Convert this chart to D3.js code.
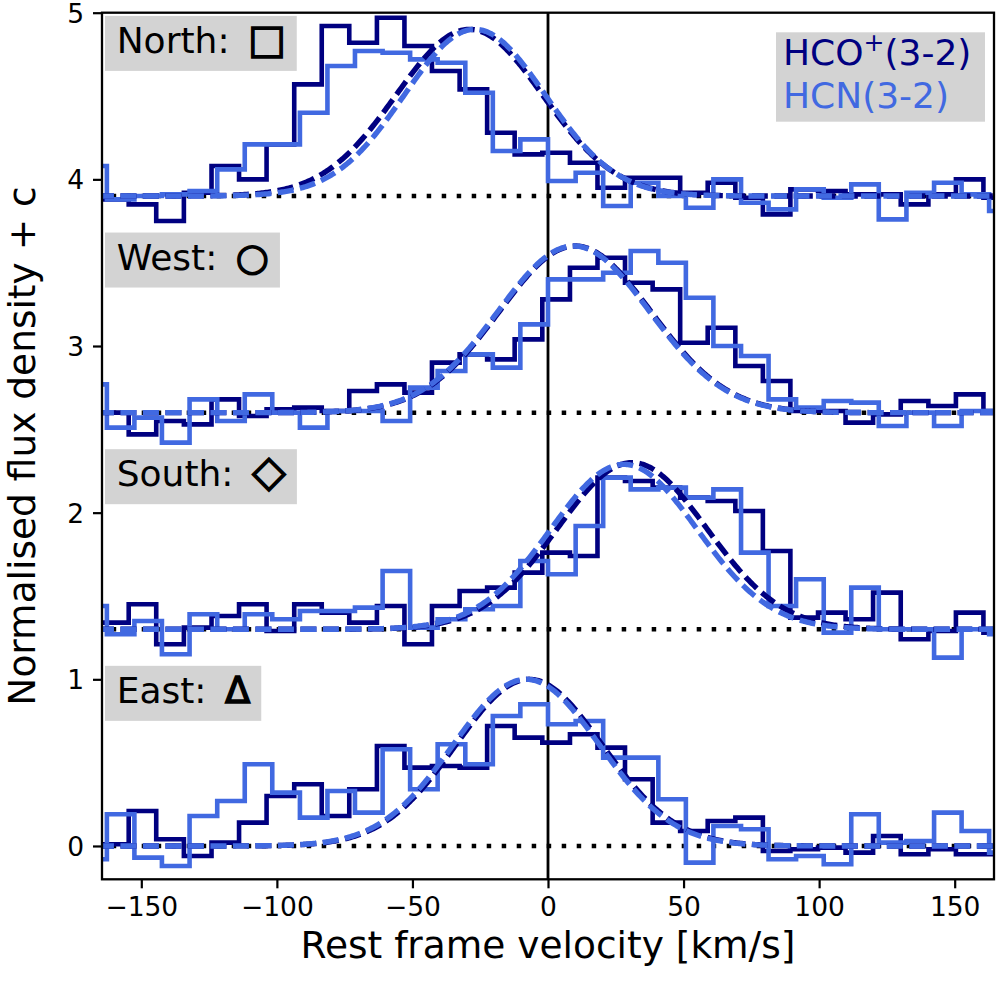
<!DOCTYPE html>
<html><head><meta charset="utf-8">
<script src="https://cdn.jsdelivr.net/npm/d3@7"></script>
<style>body{margin:0;background:#fff} svg{display:block}</style>
</head><body>
<svg id="chart" width="998" height="993"></svg>
<script>
// ---------------- data ----------------
const regions = ["North", "West", "South", "East"];
const regionSymbols = ["□", "○", "◇", "Δ"];
const offsets = [3.9, 2.6, 1.3, 0];

// channel centres (km/s)
const velHCO = [-169.9, -159.7, -149.6, -139.4, -129.2, -119.0, -108.9, -98.7, -88.5, -78.4, -68.2, -58.0, -47.9, -37.7, -27.5, -17.4, -7.2, 3.0, 13.2, 23.3, 33.5, 43.7, 53.8, 64.0, 74.2, 84.3, 94.5, 104.7, 114.8, 125.0, 135.2, 145.4, 155.5, 165.7];
const velHCN = [-167.8, -157.6, -147.5, -137.3, -127.1, -116.9, -106.8, -96.6, -86.4, -76.3, -66.1, -55.9, -45.8, -35.6, -25.4, -15.3, -5.1, 5.1, 15.3, 25.4, 35.6, 45.8, 55.9, 66.1, 76.3, 86.4, 96.6, 106.8, 116.9, 127.1, 137.3, 147.5, 157.6, 167.8];

// normalised flux (without offset c)
const hcoNorth = [-0.02, -0.02, -0.05, -0.15, 0.02, 0.18, 0.10, 0.31, 0.67, 1.02, 0.92, 1.07, 0.90, 0.75, 0.64, 0.38, 0.25, 0.26, 0.20, 0.05, 0.11, 0.11, 0.02, 0.08, -0.01, -0.11, 0.04, 0.03, 0.01, 0.01, -0.05, 0.01, 0.10, -0.01];
const hcnNorth = [0.18, -0.02, 0.00, 0.01, 0.03, 0.16, 0.31, 0.31, 0.50, 0.78, 0.87, 0.86, 0.82, 0.80, 0.62, 0.27, 0.34, 0.09, 0.14, -0.06, 0.08, 0.00, -0.07, 0.10, -0.04, -0.08, 0.04, -0.01, 0.07, -0.14, 0.02, 0.08, 0.01, -0.09];
const hcoWest = [0.00, 0.00, -0.13, -0.05, -0.07, 0.08, -0.02, 0.02, 0.03, 0.01, 0.13, 0.17, 0.12, 0.30, 0.35, 0.32, 0.44, 0.68, 0.87, 0.93, 0.78, 0.74, 0.42, 0.51, 0.28, 0.19, 0.01, 0.01, -0.06, -0.01, 0.07, 0.04, 0.11, 0.01];
const hcnWest = [0.17, -0.09, -0.03, -0.18, 0.08, -0.05, 0.11, 0.00, -0.09, 0.01, 0.01, -0.05, 0.15, 0.25, 0.35, 0.27, 0.53, 0.80, 0.80, 0.84, 0.97, 0.90, 0.69, 0.40, 0.34, 0.08, 0.03, 0.07, 0.06, -0.08, 0.00, -0.08, 0.01, 0.01];
const hcoSouth = [0.04, 0.04, 0.15, -0.09, 0.01, 0.08, 0.15, -0.01, 0.15, 0.10, 0.04, 0.14, -0.09, 0.14, 0.23, 0.25, 0.34, 0.46, 0.44, 0.91, 0.89, 0.85, 0.79, 0.77, 0.71, 0.47, 0.07, 0.10, 0.06, 0.22, -0.06, -0.01, 0.10, -0.02];
const hcnSouth = [0.14, -0.03, 0.05, -0.15, 0.09, 0.00, 0.09, 0.06, 0.11, 0.11, 0.13, 0.35, 0.01, 0.06, 0.12, 0.14, 0.41, 0.33, 0.62, 0.91, 0.84, 0.85, 0.79, 0.84, 0.46, 0.14, 0.30, -0.02, 0.25, 0.00, 0.00, -0.17, 0.00, -0.03];
const hcoEast = [0.01, 0.01, 0.21, 0.04, -0.06, 0.02, 0.14, 0.30, 0.37, 0.18, 0.34, 0.60, 0.47, 0.48, 0.47, 0.72, 0.65, 0.62, 0.67, 0.59, 0.40, 0.14, 0.09, 0.15, 0.17, -0.03, -0.02, -0.01, -0.04, 0.06, -0.05, -0.02, -0.05, -0.05];
const hcnEast = [-0.08, 0.19, -0.07, -0.12, 0.18, 0.27, 0.49, 0.32, 0.17, 0.33, 0.20, 0.58, 0.34, 0.61, 0.49, 0.78, 0.85, 0.73, 0.75, 0.53, 0.53, 0.28, -0.10, 0.12, 0.10, -0.08, -0.06, -0.11, 0.19, 0.02, 0.03, 0.20, 0.09, -0.04];

// Gaussian fits, one entry per region (North, West, South, East)
const fitAmpHCO = [1.0, 1.0, 1.0, 1.0];
const fitCenHCO = [-29, 10, 31, -7];
const fitSigHCO = [27, 28, 27.5, 27];
const fitAmpHCN = [1.0, 1.0, 0.99, 1.0];
const fitCenHCN = [-27, 9.5, 28, -8];
const fitSigHCN = [26, 28, 27, 27];

const xTicks = [-150, -100, -50, 0, 50, 100, 150];
const yTicks = [0, 1, 2, 3, 4, 5];
const legendLabels = ["HCO", "HCN(3-2)"];

const colHCO = "#000080", colHCN = "#4169e1";

// ---------------- drawing ----------------
const svg = d3.select("#chart");
const FONT = "DejaVu Sans, Liberation Sans, sans-serif";
const L = 102, R = 994, T = 12.7, B = 879.3;
const x = d3.scaleLinear().domain([-164.5, 164.5]).range([L, R]);
const y = d3.scaleLinear().domain([-0.2, 5.0]).range([B, T]);

svg.append("rect").attr("width", 998).attr("height", 993).attr("fill", "#fff");
svg.append("defs").append("clipPath").attr("id", "clip")
  .append("rect").attr("x", L).attr("y", T).attr("width", R - L).attr("height", B - T);

const plot = svg.append("g").attr("clip-path", "url(#clip)");

// zero-velocity line
plot.append("line").attr("x1", x(0)).attr("x2", x(0)).attr("y1", T).attr("y2", B)
  .attr("stroke", "#000").attr("stroke-width", 2.8);

const series = [
  [hcoNorth, hcnNorth], [hcoWest, hcnWest], [hcoSouth, hcnSouth], [hcoEast, hcnEast]
];

const stepLine = d3.line().x(d => x(d[0])).y(d => y(d[1])).curve(d3.curveStep);
const smooth = d3.line().x(d => x(d[0])).y(d => y(d[1]));
const vGrid = d3.range(-166, 166.1, 0.5);
const gauss = (v, a, c, s) => a * Math.exp(-((v - c) ** 2) / (2 * s * s));

regions.forEach((name, i) => {
  const off = offsets[i];
  plot.append("line").attr("x1", x(-164.5)).attr("x2", x(164.5))
    .attr("y1", y(off)).attr("y2", y(off))
    .attr("stroke", "#000").attr("stroke-width", 4.5)
    .attr("stroke-dasharray", "4.5 10.5").attr("stroke-dashoffset", 5.3);
  const [hco, hcn] = series[i];
  plot.append("path").datum(velHCO.map((v, j) => [v, hco[j] + off]))
    .attr("d", stepLine).attr("fill", "none").attr("stroke", colHCO)
    .attr("stroke-width", 4.6).attr("stroke-linejoin", "miter");
  plot.append("path").datum(velHCN.map((v, j) => [v, hcn[j] + off]))
    .attr("d", stepLine).attr("fill", "none").attr("stroke", colHCN)
    .attr("stroke-width", 4.6).attr("stroke-linejoin", "miter");
  plot.append("path").datum(vGrid.map(v => [v, off + gauss(v, fitAmpHCO[i], fitCenHCO[i], fitSigHCO[i])]))
    .attr("d", smooth).attr("fill", "none").attr("stroke", colHCO)
    .attr("stroke-width", 5.4).attr("stroke-dasharray", "16 6.5");
  plot.append("path").datum(vGrid.map(v => [v, off + gauss(v, fitAmpHCN[i], fitCenHCN[i], fitSigHCN[i])]))
    .attr("d", smooth).attr("fill", "none").attr("stroke", colHCN)
    .attr("stroke-width", 5.4).attr("stroke-dasharray", "16 6.5");
});

// region labels
const symbolSize = [40, 38, 44, 37];
regions.forEach((name, i) => {
  const g = svg.append("g");
  const by = y(offsets[i] + 0.857);
  const bg = g.append("rect").attr("fill", "#d3d3d3");
  const t = g.append("text").attr("x", 116.7).attr("y", by)
    .attr("font-family", FONT).attr("font-size", 36).attr("fill", "#000");
  t.append("tspan").text(name + ": ");
  t.append("tspan").attr("dx", 7).attr("font-size", symbolSize[i])
    .attr("stroke", "#000").attr("stroke-width", 1.5).text(regionSymbols[i]);
  const bb = t.node().getBBox();
  bg.attr("x", 105).attr("y", by - 37.3).attr("width", bb.x + bb.width - 105 + 11).attr("height", 55);
});

// axes frame
svg.append("rect").attr("x", L).attr("y", T).attr("width", R - L).attr("height", B - T)
  .attr("fill", "none").attr("stroke", "#000").attr("stroke-width", 2.3);

const xAxis = svg.append("g").attr("transform", `translate(0,${B})`)
  .call(d3.axisBottom(x).tickValues(xTicks).tickSize(9).tickPadding(8).tickSizeOuter(0));
const yAxis = svg.append("g").attr("transform", `translate(${L},0)`)
  .call(d3.axisLeft(y).tickValues(yTicks).tickSize(9).tickPadding(9).tickSizeOuter(0).tickFormat(d3.format("d")));
[xAxis, yAxis].forEach(a => {
  a.select(".domain").remove();
  a.selectAll(".tick line").attr("stroke", "#000").attr("stroke-width", 2.2);
  a.selectAll(".tick text").attr("font-family", FONT).attr("font-size", 26.5).attr("fill", "#000");
});
xAxis.selectAll(".tick text").attr("dy", "0.76em");
yAxis.selectAll(".tick text").attr("dy", "0.36em");

// axis labels
svg.append("text").attr("x", (L + R) / 2).attr("y", 958).attr("text-anchor", "middle")
  .attr("font-family", FONT).attr("font-size", 37.5).text("Rest frame velocity [km/s]");
svg.append("text").attr("transform", `translate(35,${(T + B) / 2}) rotate(-90)`)
  .attr("text-anchor", "middle").attr("font-family", FONT).attr("font-size", 37.5)
  .text("Normalised flux density + c");

// legend
const lg = svg.append("g");
lg.append("rect").attr("x", 776).attr("y", 32.3).attr("width", 209).attr("height", 89.4).attr("fill", "#d3d3d3");
const t1 = lg.append("text").attr("x", 783).attr("y", 65).attr("font-family", FONT)
  .attr("font-size", 36).attr("fill", colHCO);
t1.append("tspan").text(legendLabels[0]);
t1.append("tspan").attr("dy", -14).attr("font-size", 25).text("+");
t1.append("tspan").attr("dy", 14).text("(3-2)");
lg.append("text").attr("x", 783).attr("y", 108.3).attr("font-family", FONT)
  .attr("font-size", 36).attr("fill", colHCN).text(legendLabels[1]);
</script>
</body></html>
